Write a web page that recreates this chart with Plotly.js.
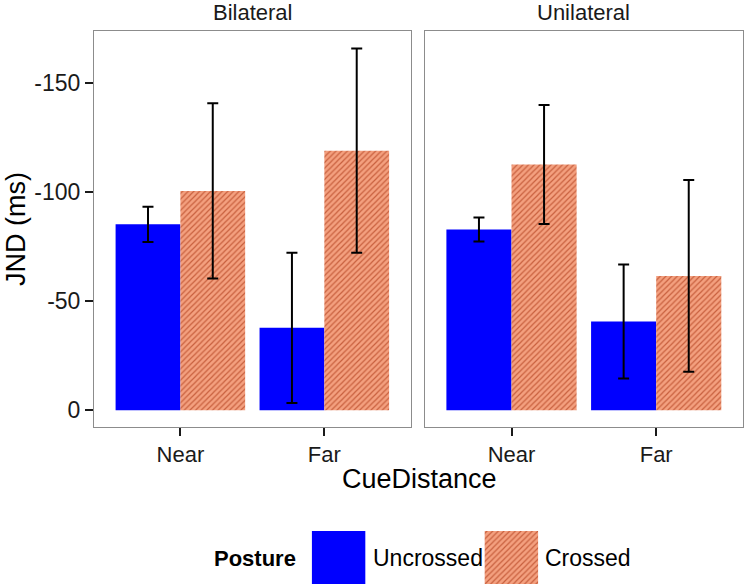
<!DOCTYPE html>
<html>
<head>
<meta charset="utf-8">
<script src="https://cdn.plot.ly/plotly-3.0.1.min.js"></script>
<style>html,body{margin:0;padding:0;background:#fff;}#chart{width:746px;height:587px;}</style>
</head>
<body>
<div id="chart"></div>
<script>
// ---- data ----
const categories = ['Near', 'Far'];
const facets = ['Bilateral', 'Unilateral'];
const postures = ['Uncrossed', 'Crossed'];

const bilateralUncrossed = [-85.3, -37.8];
const bilateralUncrossedErr = [8.1, 34.5];
const bilateralCrossed = [-100.6, -119.1];
const bilateralCrossedErr = [40.2, 46.9];

const unilateralUncrossed = [-82.9, -40.7];
const unilateralUncrossedErr = [5.5, 26.2];
const unilateralCrossed = [-112.7, -61.6];
const unilateralCrossedErr = [27.3, 44.0];

const yTickVals = [0, -50, -100, -150];
const yTickText = ['0', '-50', '-100', '-150'];
const legendKeyValue = [1];

// ---- styles ----
const FONT = '"Liberation Sans", Arial, Helvetica, sans-serif';
const BLUE = '#0000ff';
const SALMON_BG = '#f4a07f';
const SALMON_FG = '#c8603e';
const pattern = {shape: '/', fgcolor: SALMON_FG, bgcolor: SALMON_BG, size: 4, solidity: 0.3, fillmode: 'replace'};
const errStyle = (arr) => ({type: 'data', array: arr, symmetric: true, color: '#000', thickness: 2, width: 5.5});

function uncrossed(y, err, xa, ya) {
  return {type: 'bar', name: postures[0], x: categories, y: y, xaxis: xa, yaxis: ya,
    marker: {color: BLUE, line: {width: 0}}, error_y: errStyle(err), showlegend: false, hoverinfo: 'skip'};
}
function crossed(y, err, xa, ya) {
  return {type: 'bar', name: postures[1], x: categories, y: y, xaxis: xa, yaxis: ya,
    marker: {color: SALMON_BG, line: {width: 0}, pattern: pattern}, error_y: errStyle(err), showlegend: false, hoverinfo: 'skip'};
}

const data = [
  uncrossed(bilateralUncrossed, bilateralUncrossedErr, 'x', 'y'),
  crossed(bilateralCrossed, bilateralCrossedErr, 'x', 'y'),
  uncrossed(unilateralUncrossed, unilateralUncrossedErr, 'x2', 'y2'),
  crossed(unilateralCrossed, unilateralCrossedErr, 'x2', 'y2'),
  // legend keys drawn as a small bar subplot
  {type: 'bar', x: [postures[0]], y: legendKeyValue, xaxis: 'x3', yaxis: 'y3', width: 0.31, offset: -0.155,
   marker: {color: BLUE, line: {width: 0}}, showlegend: false, hoverinfo: 'skip'},
  {type: 'bar', x: [postures[1]], y: legendKeyValue, xaxis: 'x3', yaxis: 'y3', width: 0.31, offset: -0.155,
   marker: {color: SALMON_BG, line: {width: 0}, pattern: pattern}, showlegend: false, hoverinfo: 'skip'}
];

const W = 746, H = 587, ML = 94, MR = 3, MT = 31, MB = 0;
const PW = W - ML - MR, PH = H - MT - MB;
const px = (x) => (x - ML) / PW;
const py = (y) => (H - MB - y) / PH;

const yRange = [7.7, -174];
const xRange = [-0.6, 1.6];
const borderColor = '#8c8c8c';
const tickColor = '#1a1a1a';

const xCommon = {type: 'category', categoryarray: categories, range: xRange, showgrid: false, zeroline: false,
  showline: true, mirror: true, linecolor: borderColor, linewidth: 1,
  ticks: 'outside', ticklen: 8, tickwidth: 2, tickcolor: tickColor,
  tickfont: {family: FONT, size: 22, color: '#1a1a1a'}, fixedrange: true};
const yCommon = {range: yRange, showgrid: false, zeroline: false,
  showline: true, mirror: true, linecolor: borderColor, linewidth: 1, fixedrange: true};

const layout = {
  width: W, height: H,
  margin: {l: ML, r: MR, t: MT, b: MB, pad: 0},
  paper_bgcolor: '#fff', plot_bgcolor: '#fff',
  font: {family: FONT, color: '#1a1a1a'},
  barmode: 'group', bargap: 0.1, bargroupgap: 0,
  showlegend: false,
  xaxis: Object.assign({}, xCommon, {domain: [0, px(410.7)], anchor: 'y'}),
  xaxis2: Object.assign({}, xCommon, {domain: [px(424.7), 1], anchor: 'y2'}),
  yaxis: Object.assign({}, yCommon, {domain: [py(427), 1], anchor: 'x',
    tickvals: yTickVals, ticktext: yTickText, ticks: 'outside', ticklen: 8, tickwidth: 2, tickcolor: tickColor,
    tickfont: {family: FONT, size: 23, color: '#1a1a1a'}}),
  yaxis2: Object.assign({}, yCommon, {domain: [py(427), 1], anchor: 'x2', showticklabels: false, ticks: ''}),
  xaxis3: {domain: [px(311.7), px(538.3)], anchor: 'y3', type: 'category', categoryarray: postures,
    range: [-0.155, 1.155], visible: false, fixedrange: true},
  yaxis3: {domain: [py(584), py(531)], anchor: 'x3', range: [0, 1], visible: false, fixedrange: true},
  annotations: [
    {text: facets[0], xref: 'paper', yref: 'paper', x: px((94 + 410.7) / 2), y: py(13), xanchor: 'center', yanchor: 'middle',
     showarrow: false, font: {family: FONT, size: 22, color: '#1a1a1a'}},
    {text: facets[1], xref: 'paper', yref: 'paper', x: px((424.7 + 743) / 2), y: py(13), xanchor: 'center', yanchor: 'middle',
     showarrow: false, font: {family: FONT, size: 22, color: '#1a1a1a'}},
    {text: 'CueDistance', xref: 'paper', yref: 'paper', x: px(419), y: py(479), xanchor: 'center', yanchor: 'middle',
     showarrow: false, font: {family: FONT, size: 27, color: '#000'}},
    {text: 'JND (ms)', xref: 'paper', yref: 'paper', x: px(16), y: py(229), xanchor: 'center', yanchor: 'middle', textangle: -90,
     showarrow: false, font: {family: FONT, size: 27, color: '#000'}},
    {text: '<b>Posture</b>', xref: 'paper', yref: 'paper', x: px(212), y: py(558), xanchor: 'left', yanchor: 'middle',
     showarrow: false, font: {family: FONT, size: 22, color: '#000'}},
    {text: postures[0], xref: 'paper', yref: 'paper', x: px(371), y: py(558), xanchor: 'left', yanchor: 'middle',
     showarrow: false, font: {family: FONT, size: 23, color: '#000'}},
    {text: postures[1], xref: 'paper', yref: 'paper', x: px(543), y: py(558), xanchor: 'left', yanchor: 'middle',
     showarrow: false, font: {family: FONT, size: 23, color: '#000'}}
  ]
};

Plotly.newPlot('chart', data, layout, {displayModeBar: false, staticPlot: true});
</script>
</body>
</html>
